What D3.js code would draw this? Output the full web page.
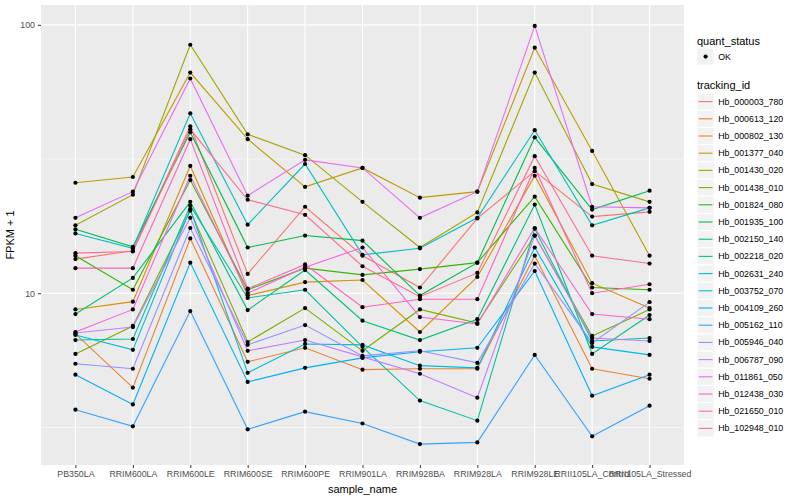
<!DOCTYPE html>
<html>
<head>
<meta charset="utf-8">
<script src="https://cdn.jsdelivr.net/npm/d3@7"></script>
<style>
  body { margin: 0; background: #fff; }
  text { font-family: "Liberation Sans", Arial, sans-serif; }
</style>
</head>
<body>
<div id="chart"></div>
<script>
// samples on the x axis
let samples = ["PB350LA", "RRIM600LA", "RRIM600LE", "RRIM600SE", "RRIM600PE", "RRIM901LA",
  "RRIM928BA", "RRIM928LA", "RRIM928LE", "RRII105LA_Control", "RRII105LA_Stressed"];

let tracking_ids = ["Hb_000003_780", "Hb_000613_120", "Hb_000802_130", "Hb_001377_040", "Hb_001430_020",
  "Hb_001438_010", "Hb_001824_080", "Hb_001935_100", "Hb_002150_140", "Hb_002218_020",
  "Hb_002631_240", "Hb_003752_070", "Hb_004109_260", "Hb_005162_110", "Hb_005946_040",
  "Hb_006787_090", "Hb_011861_050", "Hb_012438_030", "Hb_021650_010", "Hb_102948_010"];

// FPKM + 1, one array per gene, in sample order
let Hb_000003_780 = [13.4, 14.4, 41.9, 11.8, 21.0, 13.8, 10.5, 19.0, 28.5, 19.3, 20.1];
let Hb_000613_120 = [7.05, 4.45, 16.0, 5.55, 6.26, 5.19, 5.23, 5.23, 13.8, 5.23, 4.80];
let Hb_000802_130 = [8.7, 9.3, 29.8, 9.8, 11.0, 11.2, 7.17, 11.5, 27.4, 10.9, 8.8];
let Hb_001377_040 = [25.8, 27.1, 66.4, 37.5, 24.9, 29.3, 22.7, 23.9, 82.2, 33.9, 13.8];
let Hb_001430_020 = [17.9, 23.3, 84.3, 39.1, 32.7, 21.9, 14.8, 20.0, 66.4, 25.5, 21.9];
let Hb_001438_010 = [5.94, 7.55, 20.3, 6.58, 8.8, 6.10, 8.7, 7.74, 16.4, 6.93, 8.7];
let Hb_001824_080 = [13.8, 10.3, 26.4, 10.3, 12.4, 11.7, 12.3, 13.0, 22.9, 10.5, 10.3];
let Hb_001935_100 = [17.3, 14.9, 39.8, 14.8, 16.4, 15.7, 9.8, 13.0, 38.1, 20.5, 24.1];
let Hb_002150_140 = [8.36, 11.4, 21.9, 8.65, 12.2, 7.9, 6.69, 8.0, 21.4, 5.94, 8.29];
let Hb_002218_020 = [6.69, 6.75, 21.2, 9.6, 10.3, 6.31, 3.98, 3.35, 17.4, 6.64, 6.81];
let Hb_002631_240 = [16.7, 14.7, 46.8, 18.0, 30.3, 13.9, 14.7, 19.1, 40.5, 17.9, 20.8];
let Hb_003752_070 = [6.99, 6.15, 20.6, 5.05, 6.47, 6.42, 5.37, 5.27, 14.8, 6.31, 5.89];
let Hb_004109_260 = [4.97, 3.85, 13.0, 4.67, 5.27, 5.74, 6.05, 6.26, 12.1, 4.15, 4.97];
let Hb_005162_110 = [3.68, 3.19, 8.58, 3.11, 3.62, 3.27, 2.74, 2.78, 5.89, 2.93, 3.81];
let Hb_005946_040 = [5.46, 5.23, 17.5, 6.42, 7.61, 5.84, 6.10, 5.50, 12.9, 6.53, 9.26];
let Hb_006787_090 = [7.11, 7.48, 19.1, 6.10, 6.69, 5.79, 5.01, 4.08, 16.4, 6.81, 6.64];
let Hb_011861_050 = [19.1, 23.9, 63.1, 23.1, 31.4, 29.3, 19.1, 23.9, 99.1, 21.0, 20.8];
let Hb_012438_030 = [7.17, 8.7, 27.4, 10.0, 12.5, 14.8, 8.15, 7.68, 17.5, 8.36, 8.0];
let Hb_021650_010 = [12.4, 12.4, 37.5, 10.4, 12.8, 8.87, 9.5, 9.5, 29.3, 10.0, 10.8];
let Hb_102948_010 = [14.1, 14.3, 40.8, 22.3, 19.6, 12.6, 9.7, 11.9, 32.4, 13.8, 12.9];

let values = [Hb_000003_780, Hb_000613_120, Hb_000802_130, Hb_001377_040, Hb_001430_020,
  Hb_001438_010, Hb_001824_080, Hb_001935_100, Hb_002150_140, Hb_002218_020,
  Hb_002631_240, Hb_003752_070, Hb_004109_260, Hb_005162_110, Hb_005946_040,
  Hb_006787_090, Hb_011861_050, Hb_012438_030, Hb_021650_010, Hb_102948_010];

let y_ticks = [10, 100];
let y_minor = [3.1623, 31.623];

// ggplot hue palette for 20 levels
let colors = ["#F8766D", "#EA8331", "#D89000", "#C09B00", "#A3A500", "#7CAE00", "#39B600", "#00BB4E",
  "#00BF7D", "#00C1A3", "#00BFC4", "#00BAE0", "#00B0F6", "#35A2FF", "#9590FF", "#C77CFF",
  "#E76BF3", "#FA62DB", "#FF62BC", "#FF6C91"];

let width = 800, height = 500;
let panel = { left: 41, right: 684, top: 5, bottom: 465 };

let svg = d3.select("#chart").append("svg")
  .attr("width", width)
  .attr("height", height);

svg.append("rect").attr("width", width).attr("height", height).attr("fill", "#fff");

let x = d3.scalePoint().domain(samples).range([panel.left, panel.right]).padding(0.6);

// log range with the usual 5% expansion
let all = values.flat();
let lo = Math.log10(d3.min(all)), hi = Math.log10(d3.max(all));
let pad = (hi - lo) * 0.05;
let y = d3.scaleLog().domain([Math.pow(10, lo - pad), Math.pow(10, hi + pad)])
  .range([panel.bottom, panel.top]);

let g = svg.append("g");

g.append("rect")
  .attr("x", panel.left).attr("y", panel.top)
  .attr("width", panel.right - panel.left).attr("height", panel.bottom - panel.top)
  .attr("fill", "#EBEBEB");

// grid
g.selectAll(".minor").data(y_minor).enter().append("line")
  .attr("x1", panel.left).attr("x2", panel.right)
  .attr("y1", d => y(d)).attr("y2", d => y(d))
  .attr("stroke", "#fff").attr("stroke-width", 0.5);
g.selectAll(".major-y").data(y_ticks).enter().append("line")
  .attr("x1", panel.left).attr("x2", panel.right)
  .attr("y1", d => y(d)).attr("y2", d => y(d))
  .attr("stroke", "#fff").attr("stroke-width", 1.1);
g.selectAll(".major-x").data(samples).enter().append("line")
  .attr("x1", d => x(d)).attr("x2", d => x(d))
  .attr("y1", panel.top).attr("y2", panel.bottom)
  .attr("stroke", "#fff").attr("stroke-width", 1.1);

// lines
let line = d3.line().x((d, i) => x(samples[i])).y(d => y(d));
g.selectAll(".series").data(values).enter().append("path")
  .attr("d", d => line(d))
  .attr("fill", "none")
  .attr("stroke", (d, i) => colors[i])
  .attr("stroke-width", 1.1);

// points
values.forEach(function(vals) {
  g.selectAll(null).data(vals).enter().append("circle")
    .attr("cx", (d, i) => x(samples[i]))
    .attr("cy", d => y(d))
    .attr("r", 2.1)
    .attr("fill", "#000");
});

// axes
let xAxis = svg.append("g").attr("transform", "translate(0," + panel.bottom + ")")
  .call(d3.axisBottom(x).tickSize(3).tickPadding(3));
let yAxis = svg.append("g").attr("transform", "translate(" + panel.left + ",0)")
  .call(d3.axisLeft(y).tickValues(y_ticks).tickFormat(d3.format("d")).tickSize(3).tickPadding(3));
[xAxis, yAxis].forEach(function(a) {
  a.select(".domain").remove();
  a.selectAll(".tick line").attr("stroke", "#333");
  a.selectAll(".tick text").attr("fill", "#4D4D4D").style("font-size", "8.8px")
    .style("font-family", "'Liberation Sans', Arial, sans-serif");
});

svg.append("text")
  .attr("x", (panel.left + panel.right) / 2).attr("y", 493)
  .attr("text-anchor", "middle").style("font-size", "11px").text("sample_name");
svg.append("text")
  .attr("transform", "translate(14," + (panel.top + panel.bottom) / 2 + ") rotate(-90)")
  .attr("text-anchor", "middle").style("font-size", "11px").text("FPKM + 1");

// legend
let lx = 697, key = 17.2;
let legend = svg.append("g");
legend.append("text").attr("x", lx).attr("y", 45).style("font-size", "11px").text("quant_status");
legend.append("rect").attr("x", lx).attr("y", 48).attr("width", key).attr("height", key)
  .attr("fill", "#F2F2F2").attr("stroke", "#fff");
legend.append("circle").attr("cx", lx + key / 2).attr("cy", 48 + key / 2).attr("r", 2.1).attr("fill", "#000");
legend.append("text").attr("x", lx + key + 4).attr("y", 48 + key / 2 + 3)
  .style("font-size", "8.8px").text("OK");

legend.append("text").attr("x", lx).attr("y", 89).style("font-size", "11px").text("tracking_id");
let items = legend.selectAll(".item").data(tracking_ids).enter().append("g")
  .attr("transform", (d, i) => "translate(" + lx + "," + (93 + i * key) + ")");
items.append("rect").attr("width", key).attr("height", key)
  .attr("fill", "#F2F2F2").attr("stroke", "#fff");
items.append("line").attr("x1", 1.7).attr("x2", key - 1.7)
  .attr("y1", key / 2).attr("y2", key / 2)
  .attr("stroke", (d, i) => colors[i]).attr("stroke-width", 1.1);
items.append("text").attr("x", key + 4).attr("y", key / 2 + 3)
  .style("font-size", "8.8px").text(d => d);
</script>
</body>
</html>
